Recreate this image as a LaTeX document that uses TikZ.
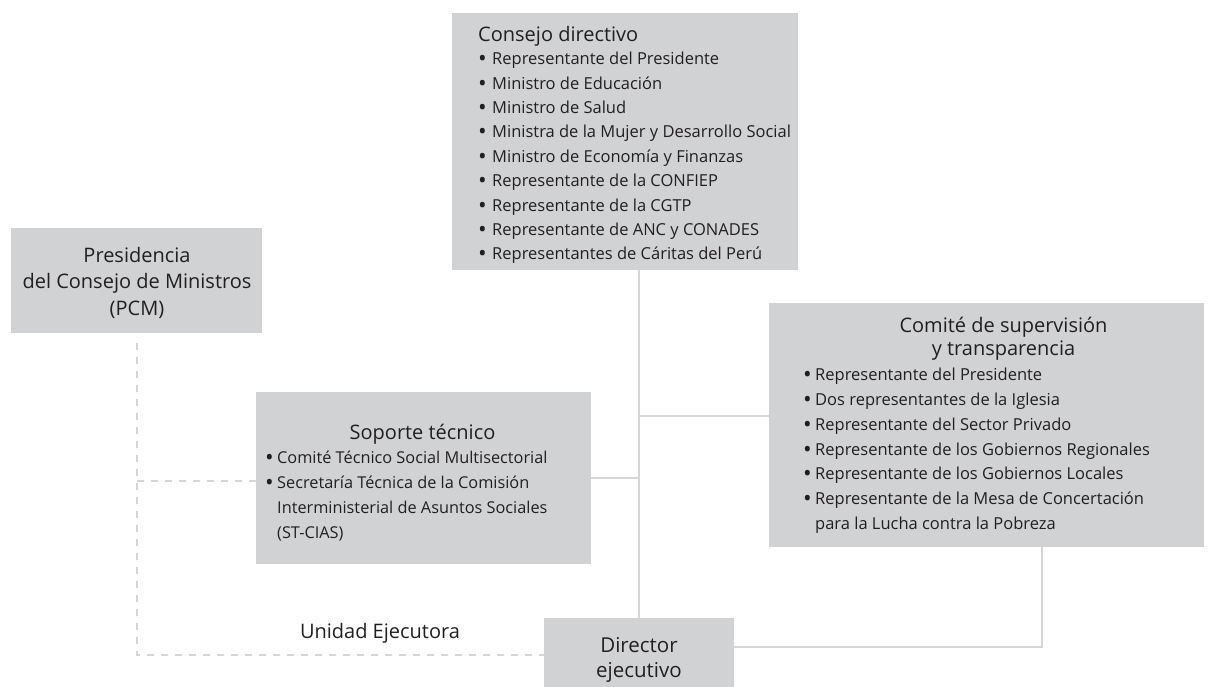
\documentclass[tikz,border=0pt]{standalone}
\usepackage{fontspec}
\setmainfont{Open Sans}
\definecolor{boxgray}{RGB}{209,210,212}
\definecolor{linegray}{RGB}{214,214,214}
\definecolor{ink}{RGB}{35,31,32}
\newcommand\bl[1][12pt]{\strut\makebox[#1][l]{\raisebox{-2pt}{\fontsize{23}{23}\selectfont •}}}
\newcommand\cont[1][12pt]{\strut\hspace*{#1}}
\tikzset{
  box/.style={fill=boxgray, draw=none, inner sep=0pt, anchor=north west},
  head/.style={text=ink, inner sep=0pt, font=\fontsize{20}{24}\selectfont},
  itemlist/.style={text=ink, align=left, inner sep=0pt, anchor=north west},
  link/.style={draw=linegray, line width=2.4pt},
  dlink/.style={draw=linegray, line width=2pt, dash pattern=on 7pt off 7pt},
}
\begin{document}
\begin{tikzpicture}[x=1pt,y=-1pt]
\useasboundingbox (0,0) rectangle (1208,687);
% boxes
\node[box, minimum width=346pt, minimum height=257pt] (cd) at (452,13) {};
\node[box, minimum width=251pt, minimum height=105pt] (pcm) at (11,228) {};
\node[box, minimum width=335pt, minimum height=172pt] (st) at (256,392) {};
\node[box, minimum width=435pt, minimum height=244pt] (cst) at (769,303) {};
\node[box, minimum width=190pt, minimum height=69pt] (dir) at (544,618) {};
% connectors
\draw[link] (dir.north) -- (dir.north |- cd.south);
\draw[link] (st.east) -- (st.east -| dir.north);
\draw[link] ([yshift=9pt]cst.west) -- ([yshift=9pt]cst.west -| dir.north);
\draw[link] ([xshift=55.5pt]cst.south) |- ([yshift=5.5pt]dir.east);
\draw[dlink] ([yshift=-10pt]pcm.south) |- ([yshift=-2.5pt]dir.west);
\draw[dlink] ([yshift=-3pt]st.west) -- ([yshift=-3pt]st.west -| pcm.south);
% texts
\node[head, anchor=base west] (cdt) at (478,42) {Consejo directivo};
\node[itemlist, font=\fontsize{16.5}{24.4}\selectfont] (cdl) at (478,47.4) {%
\bl[14pt]Representante del Presidente\\
\bl[14pt]Ministro de Educación\\
\bl[14pt]Ministro de Salud\\
\bl[14pt]Ministra de la Mujer y Desarrollo Social\\
\bl[14pt]Ministro de Economía y Finanzas\\
\bl[14pt]Representante de la CONFIEP\\
\bl[14pt]Representante de la CGTP\\
\bl[14pt]Representante de ANC y CONADES\\
\bl[14pt]Representantes de Cáritas del Perú};
\node[head, align=center, anchor=north, font=\fontsize{20}{26.5}\selectfont] (pcmt) at (137,243.4) {%
\strut Presidencia\\\strut del Consejo de Ministros\\\strut (PCM)};
\node[head, anchor=base] (stt) at (422.5,439) {Soporte técnico};
\node[itemlist, font=\fontsize{16.3}{25}\selectfont] (stl) at (265,446) {%
\bl Comité Técnico Social Multisectorial\\
\bl Secretaría Técnica de la Comisión\\
\cont Interministerial de Asuntos Sociales\\
\cont (ST-CIAS)};
\node[head, align=center, anchor=north, font=\fontsize{20}{23.5}\selectfont] (cstt) at (1003.5,315.5) {%
\strut Comité de supervisión\\\strut y transparencia};
\node[itemlist, font=\fontsize{16.5}{24.8}\selectfont] (cstl) at (803,363.1) {%
\bl Representante del Presidente\\
\bl Dos representantes de la Iglesia\\
\bl Representante del Sector Privado\\
\bl Representante de los Gobiernos Regionales\\
\bl Representante de los Gobiernos Locales\\
\bl Representante de la Mesa de Concertación\\
\cont para la Lucha contra la Pobreza};
\node[head, align=center, anchor=north, font=\fontsize{20.5}{25}\selectfont] (dirt) at (639,634.5) {%
\strut Director\\\strut ejecutivo};
\node[head, anchor=base] (ue) at (380,638) {Unidad Ejecutora};
\end{tikzpicture}
\end{document}
